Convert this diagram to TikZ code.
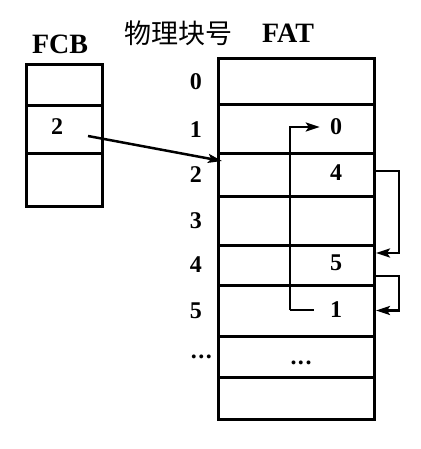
\documentclass[tikz,border=0pt]{standalone}
\usepackage{fontspec}
\setmainfont{Liberation Serif}
\newfontfamily\cjk{Noto Sans CJK SC}
\usetikzlibrary{
        arrows.meta,
        positioning
    }
\tikzset{>={Stealth[length=14pt,width=9pt,inset=3pt]},auto,node distance=2cm}
\tikzset{
    cell/.style={draw,line width=3pt,inner sep=0pt,outer sep=0pt},
    fatrow/.style={cell,minimum width=156pt},
    fcbrow/.style={cell,minimum width=76pt},
    num/.style={font=\fontsize{24}{26}\bfseries\selectfont,inner sep=2pt},
    head/.style={font=\fontsize{28}{30}\bfseries\selectfont,inner sep=2pt},
    link/.style={-{Stealth[length=14pt,width=9pt,inset=3pt]},line width=2.5pt}
}
\newcommand{\rowdots}{.\kern1.5pt.\kern1.5pt.}

\begin{document}
\begin{tikzpicture}[x=1pt,y=-1pt]
                    \useasboundingbox (0,0) rectangle (420,449);
                    % FAT table and block numbers
                    \foreach \i/\t/\b/\l/\g in {0/59/105/0/14,1/105/154/1/14,2/154/196/2/14,3/196/245/3/14,4/245/285/4/14,5/285/336/5/14,6/336/377/\rowdots/4,7/377/419//14}{
                        \node[fatrow,minimum height={(\b-\t)*1pt}] (f\i) at (296,{(\t+\b)/2}) {};
                        \node[num,left=\g pt of f\i] (n\i) {\l};
                    }
                    % FCB
                    \foreach \i/\t/\b in {0/65/106,1/106/154,2/154/206}
                        \node[fcbrow,minimum height={(\b-\t)*1pt}] (c\i) at (64,{(\t+\b)/2}) {};
                    \node[num] (p) at (57,127) {2};
                    \node[head] (fcb) at (60,44) {FCB};
                    \node[font=\cjk\fontsize{27}{30}\selectfont] (blk) at (178,33) {物理块号};
                    \node[head] (fat) at (288,33) {FAT};
                    % entries
                    \node[num] (v1) at (336,127) {0};
                    \node[num] (v2) at (336,173) {4};
                    \node[num] (v4) at (336,263) {5};
                    \node[num] (v5) at (336,310) {1};
                    \node[num] (v6) at (301,363) {\rowdots};
                    \coordinate (ptr) at (88,136);
                    \path[link]
                        (ptr) edge ([xshift=4pt,yshift=-7pt]f2.north west)
                        ([xshift=-14pt]v5.west) edge[-] ++(-24,0);
                    \draw[link] ([xshift=-38pt]v5.west) |- ([xshift=-8pt]v1.west);
                    \draw[link] ([yshift=4pt]f2.east) -- ++(25,0) |- ([yshift=12pt,xshift=2pt]f4.east);
                    \draw[link] ([yshift=-11pt]f4.east) -- ++(25,0) |- ([xshift=2pt]f5.east);
                \end{tikzpicture}
\end{document}
